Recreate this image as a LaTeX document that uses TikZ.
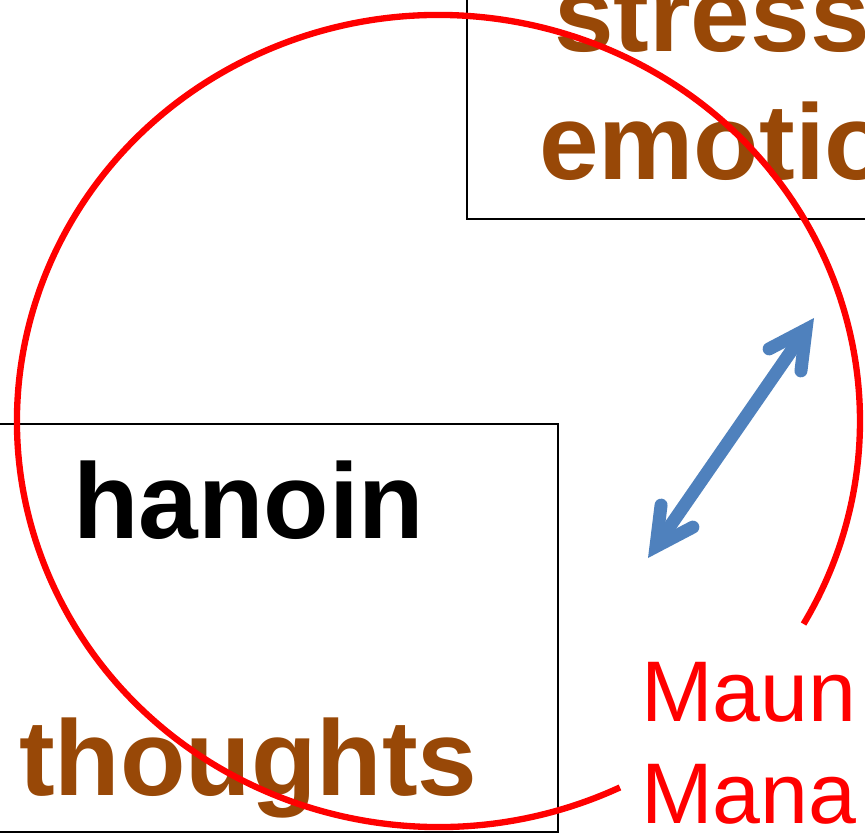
\documentclass[tikz,border=0pt]{standalone}
\usepackage{fontspec}
\setmainfont{Liberation Sans}
\usepackage{tikz}
\usetikzlibrary{positioning}
\usetikzlibrary{arrows.meta}
\definecolor{rust}{HTML}{984807}
\definecolor{steel}{HTML}{4F81BD}
\tikzset{
	every node/.style={anchor=base west,inner sep=0pt,outer sep=0pt},
	frame/.style={draw=black,line width=1.1pt},
	ring/.style={draw=red,line width=3.6pt},
	link/.style={draw=steel,line width=7.4pt,
		{Straight Barb[length=21pt,width=22pt,line cap=round,line join=miter]}-{Straight Barb[length=21pt,width=22pt,line cap=round,line join=miter]}},
	big/.style={font=\fontsize{61}{73}\selectfont\bfseries},
	note/.style={font=\fontsize{49}{58}\selectfont,text=red},
}

\begin{document}
\begin{tikzpicture}[x=0.02cm,y=-0.02cm]
				\useasboundingbox (0,0) rectangle (865,834);
				\clip (0,0) rectangle (865,834);
				
				% boxes.....................
				\draw [frame] (467,-20) rectangle (900,219);
				\draw [frame] (-20,424) rectangle (558,832);
				
				% box texts...................
				\node [big, text=rust] (stress) at (554,52) {stress};
				\node [big, text=rust] (emotio) at (539,180) {emotio};
				\node [big, text=black] (hanoin) at (73,538) {hanoin};
				\node [big, text=rust] (thoughts) at (19,795) {thoughts};
				
				% red ring, open at the label.............
				\coordinate (hub) at (438.5,421);
				\draw [ring] (hub) ++({421.5*cos(64.5)},{406*sin(64.5)})
					arc [start angle=64.5, end angle=390, x radius=421.5, y radius=406];
				
				% double arrow..............
				\coordinate (upper) at (814,318);
				\coordinate (lower) at (648,558);
				\draw [link] (lower) -- (upper);
				
				% label..............................
				\node [note] (maun) at (641,721) {Maun};
				\node [note] (mana) at (641,823) {Mana};
			\end{tikzpicture}
\end{document}
